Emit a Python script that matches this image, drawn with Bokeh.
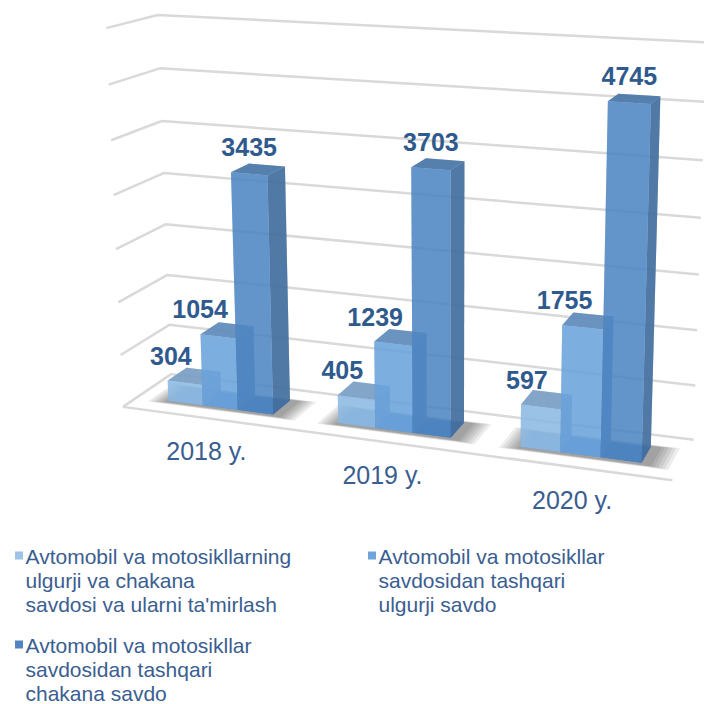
import numpy as np
from bokeh.plotting import figure
from bokeh.models import Range1d, ColumnDataSource
from bokeh.embed import file_html
from bokeh.resources import INLINE
from bokeh.core.properties import value

# ---------------- data ----------------
categories = ["2018 y.", "2019 y.", "2020 y."]
series_names = [
    ["Avtomobil va motosikllarning", "ulgurji va chakana", "savdosi va ularni ta'mirlash"],
    ["Avtomobil va motosikllar", "savdosidan tashqari", "ulgurji savdo"],
    ["Avtomobil va motosikllar", "savdosidan tashqari", "chakana savdo"],
]
s1_values = [304, 405, 597]
s2_values = [1054, 1239, 1755]
s3_values = [3435, 3703, 4745]
series_values = [s1_values, s2_values, s3_values]

# ---------------- styles / layout ----------------
W_PX, H_PX = 704, 704
Y_MAX = 5400          # value at the top of the 3D frame
N_GRID = 7            # gridline intervals
GAP = 1.8             # gap width (fraction of bar width)
Z0, Z1 = 0.30, 0.70   # bar depth inside the floor
FONT = "Liberation Sans"
TXT = "#3A5E90"
LBL = "#2F5A8E"
GRID = "#D9D9D9"
FRONT = ["#8FBBE4", "#6CA5DD", "#5189C5"]
TOP = ["#7C9FC4", "#648DBC", "#4C78A8"]
SIDE = ["#6D95C0", "#4F80B8", "#45709E"]
DARK = ["#6A9CCB", "#4F86C2", "#3C6EA6"]
LEGEND_SQ = ["#9DC3E6", "#6FA5DB", "#4F84C0"]
LABEL_DX = [-14, -18, 0]
LABEL_DY = -27
CAT_DY = 33

# frame corners (u: 0..1 along categories, z: 0 front..1 back, v: 0..1 height) -> page px
FRAME_ANCHORS = [
    ((0, 0, 0), (123, 405)), ((0, 0, 1), (105, 28)),
    ((0, 1, 0), (170, 375)), ((0, 1, 1), (158, 14)),
    ((1, 1, 0), (693, 438)), ((1, 1, 1), (706, 42)),
    ((1, 0, 0), (672, 481)),
]


def fit_camera(anchors):
    rows = []
    for (u, z, v), (px, py) in anchors:
        a, b = px / 700.0, py / 700.0
        W = [u, z, v, 1.0]
        rows.append(W + [0, 0, 0, 0] + [-a * w for w in W])
        rows.append([0, 0, 0, 0] + W + [-b * w for w in W])
    _, _, vt = np.linalg.svd(np.array(rows, dtype=float))
    return vt[-1].reshape(3, 4)


P = fit_camera(FRAME_ANCHORS)


def proj(u, z, v):
    u = np.atleast_1d(np.asarray(u, float))
    z = np.broadcast_to(np.asarray(z, float), u.shape)
    v = np.broadcast_to(np.asarray(v, float), u.shape)
    W = np.vstack([u, z, v, np.ones_like(u)])
    r = P @ W
    return list(r[0] / r[2] * 700.0), list(r[1] / r[2] * 700.0)


p = figure(width=W_PX, height=H_PX, output_backend="svg", toolbar_location=None,
           x_range=Range1d(0, W_PX), y_range=Range1d(H_PX, 0), min_border=0)
p.axis.visible = False
p.grid.visible = False
p.outline_line_color = None
p.background_fill_color = "white"
p.border_fill_color = "white"

# ---------------- gridlines ----------------
gx, gy = [], []
for k in range(N_GRID + 1):
    v = k / N_GRID
    xs, ys = proj([0, 0, 1], [0, 1, 1], [v, v, v])
    gx.append(xs); gy.append(ys)
xs, ys = proj([0, 1], [0, 0], [0, 0])
gx.append(xs); gy.append(ys)
p.multi_line(gx, gy, line_color=GRID, line_width=2.5)

ncat = len(categories)
nser = len(series_values)
cat_w = 1.0 / ncat
bar_w = cat_w / (nser + GAP)

# ---------------- shadows (soft, layered) ----------------
for i in range(ncat):
    ua = i * cat_w + GAP * bar_w / 2
    ub = ua + nser * bar_w
    for L in range(6):
        e = 0.006 * (5 - L)
        xs, ys = proj([ua - 0.004 - e, ub + 0.018 + e, ub + 0.018 + e, ua - 0.004 - e],
                      [Z0 - 0.05 - 1.2 * e, Z0 - 0.05 - 1.2 * e, Z1 + 0.02 + e, Z1 + 0.02 + e],
                      [0, 0, 0, 0])
        p.patch(xs, ys, fill_color="#000000", fill_alpha=0.07, line_color=None)

# ---------------- bars ----------------
faces = dict(xs=[], ys=[], color=[], alpha=[])


def add_face(u, z, v, color, alpha):
    xs, ys = proj(u, z, v)
    faces["xs"].append(xs); faces["ys"].append(ys)
    faces["color"].append(color); faces["alpha"].append(alpha)


for i in range(ncat):
    for s in range(nser):
        u0 = i * cat_w + GAP * bar_w / 2 + s * bar_w
        u1 = u0 + bar_w
        h = series_values[s][i] / Y_MAX
        # hidden faces, seen through
        add_face([u0, u1, u1, u0], [Z0, Z0, Z1, Z1], [0, 0, 0, 0], DARK[s], 0.95)
        add_face([u0, u0, u0, u0], [Z0, Z1, Z1, Z0], [0, 0, h, h], DARK[s], 0.35)
        add_face([u0, u1, u1, u0], [Z1, Z1, Z1, Z1], [0, 0, h, h], DARK[s], 0.35)
        # visible faces
        add_face([u1, u1, u1, u1], [Z0, Z1, Z1, Z0], [0, 0, h, h], SIDE[s], 0.9)
        add_face([u0, u1, u1, u0], [Z0, Z0, Z1, Z1], [h, h, h, h], TOP[s], 0.92)
        add_face([u0, u1, u1, u0], [Z0, Z0, Z0, Z0], [0, 0, h, h], FRONT[s], 0.82)

p.patches("xs", "ys", source=ColumnDataSource(faces), fill_color="color",
          fill_alpha="alpha", line_color=None)

# ---------------- data labels ----------------
lx, ly, lt = [], [], []
for i in range(ncat):
    for s in range(nser):
        uc = i * cat_w + GAP * bar_w / 2 + (s + 0.5) * bar_w
        h = series_values[s][i] / Y_MAX
        xs, ys = proj([uc], [Z0], [h])
        lx.append(xs[0] + LABEL_DX[s]); ly.append(ys[0] + LABEL_DY)
        lt.append(str(series_values[s][i]))
p.text(lx, ly, text=lt, text_font=value(FONT), text_font_size="25px",
       text_font_style="bold", text_color=LBL, text_align="center", text_baseline="middle")

# ---------------- category labels ----------------
cx, cy = [], []
for i in range(ncat):
    xs, ys = proj([(i + 0.5) * cat_w], [0], [0])
    cx.append(xs[0]); cy.append(ys[0] + CAT_DY)
p.text(cx, cy, text=categories, text_font=value(FONT), text_font_size="25px",
       text_color=TXT, text_align="center", text_baseline="middle")

# ---------------- legend ----------------
LEG_POS = [(14, 556), (367, 556), (14, 645)]
LINE_H = 24
for s in range(nser):
    x0, y0 = LEG_POS[s]
    p.scatter([x0 + 4.5], [y0 - 1], marker="square", size=8, fill_color=LEGEND_SQ[s], line_color=None)
    tys = [y0 + j * LINE_H for j in range(len(series_names[s]))]
    p.text([x0 + 11] * len(tys), tys, text=series_names[s], text_font=value(FONT),
           text_font_size="21px", text_color=TXT, text_align="left", text_baseline="middle")

open("out.html", "w").write(file_html(p, INLINE))
